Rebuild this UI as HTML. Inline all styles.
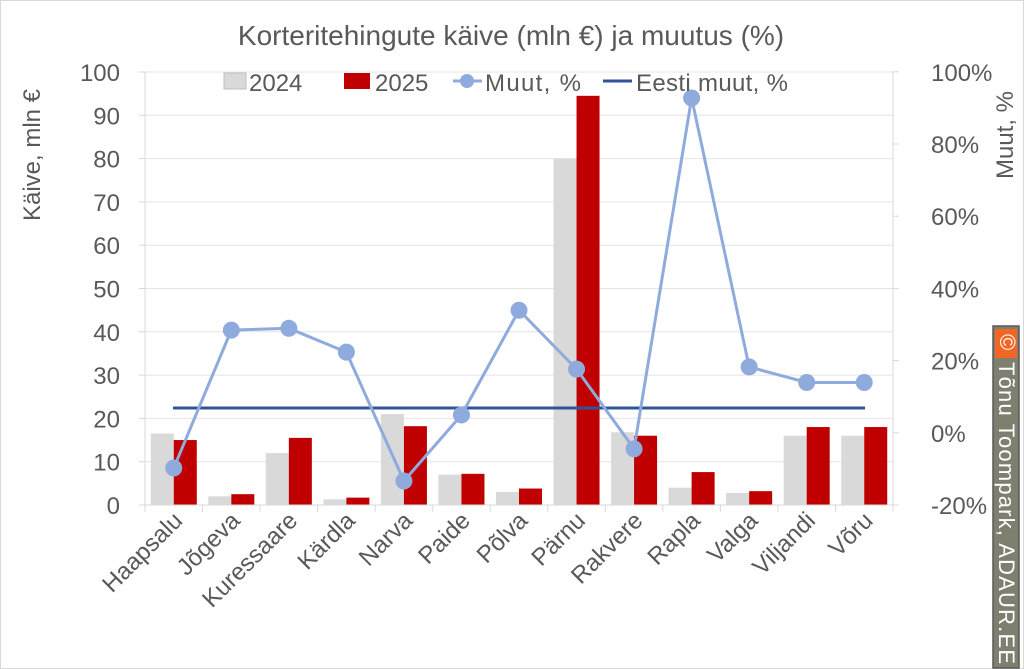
<!DOCTYPE html>
<html><head><meta charset="utf-8"><style>
html,body{margin:0;padding:0;background:#fff;}
svg{display:block;font-family:"Liberation Sans",sans-serif;}
</style></head><body>
<svg id="c" width="1024" height="669" xmlns="http://www.w3.org/2000/svg">
<rect x="0.5" y="0.5" width="1023" height="668" fill="#fff" stroke="#d9d9d9"/>
<text x="511" y="45" font-size="28" fill="#595959" text-anchor="middle">Korteritehingute käive (mln €) ja muutus (%)</text>
<g id="g"></g>
<text transform="translate(40,155) rotate(-90)" font-size="24" fill="#595959" text-anchor="middle">Käive, mln €</text>
<text transform="translate(1013,135) rotate(-90)" font-size="24" fill="#595959" text-anchor="middle">Muut, %</text>
<rect x="224" y="73" width="22" height="16" fill="#d9d9d9" stroke="#bfbfbf"/>
<text x="249" y="91" font-size="24" fill="#595959">2024</text>
<rect x="344" y="73" width="26" height="16" fill="#c00000"/>
<text x="375" y="91" font-size="24" fill="#595959">2025</text>
<line x1="453" y1="81" x2="482" y2="81" stroke="#8faadc" stroke-width="3"/>
<circle cx="467" cy="81" r="7" fill="#8faadc"/>
<text x="485" y="91" font-size="24" fill="#595959" textLength="96">Muut, %</text>
<line x1="603" y1="81" x2="632" y2="81" stroke="#2f5597" stroke-width="3"/>
<text x="636" y="91" font-size="24" fill="#595959" textLength="152">Eesti muut, %</text>
<rect x="993" y="326" width="26" height="342" fill="#7f7f6f" stroke="#595959" stroke-width="1.5"/>
<rect x="995" y="329" width="22" height="29" fill="#f26522"/>
<text transform="translate(1000,334) rotate(90)" font-size="22" fill="#fff">©</text>
<text transform="translate(999,362) rotate(90)" font-size="22" fill="#fff" textLength="302">Tõnu Toompark, ADAUR.EE</text>
</svg>
<script>
const g=document.getElementById('g');let s='';
const L=145,R=893,y0=505,py=4.33;
const names=['Haapsalu','Jõgeva','Kuressaare','Kärdla','Narva','Paide','Põlva','Pärnu','Rakvere','Rapla','Valga','Viljandi','Võru'];
const a=[16.5,2,12,1.3,21,7,3,80,16.8,4,2.8,16,16];
const b=[15,2.5,15.5,1.7,18.2,7.2,3.8,94.5,16,7.6,3.2,18,18];
const p=[-9.7,28.5,29,22.4,-13.3,5,34,17.7,-4.4,92.8,18.3,14,14];
const w=(R-L)/13;
for(let i=0;i<=10;i++){const y=y0-i*10*py;if(i>0)s+=`<line x1="${L}" y1="${y}" x2="${R}" y2="${y}" stroke="#e4e4e4"/>`;
s+=`<line x1="${L-6}" y1="${y}" x2="${L}" y2="${y}" stroke="#d9d9d9"/><text x="${L-25}" y="${y+9}" font-size="24" fill="#595959" text-anchor="end">${i*10}</text>`;}
for(let i=0;i<=6;i++){const y=y0-i*72.2;s+=`<line x1="${R}" y1="${y}" x2="${R+6}" y2="${y}" stroke="#d9d9d9"/><text x="${R+38}" y="${y+9}" font-size="24" fill="#595959">${(i-1)*20}%</text>`;}
s+=`<line x1="${L}" y1="72" x2="${L}" y2="${y0}" stroke="#d9d9d9"/><line x1="${R}" y1="72" x2="${R}" y2="${y0}" stroke="#d9d9d9"/>`;
for(let i=0;i<13;i++){const c=L+w*(i+0.5);
s+=`<rect x="${c-23}" y="${y0-a[i]*py}" width="23" height="${a[i]*py}" fill="#d9d9d9"/>`;
s+=`<rect x="${c}" y="${y0-b[i]*py}" width="23" height="${b[i]*py}" fill="#c00000"/>`;
s+=`<text transform="translate(${c+10},${522}) rotate(-45)" font-size="24" fill="#595959" text-anchor="end">${names[i]}</text>`;}
s+=`<line x1="${L}" y1="${y0}" x2="${R}" y2="${y0}" stroke="#d9d9d9"/>`;
for(let i=0;i<=13;i++){const x=L+w*i;s+=`<line x1="${x}" y1="${y0}" x2="${x}" y2="${y0+7}" stroke="#d9d9d9"/>`;}
s+=`<line x1="173" y1="408" x2="865" y2="408" stroke="#2f5597" stroke-width="3"/>`;
const pts=p.map((v,i)=>[L+w*(i+0.5),433-v*3.61]);
s+=`<polyline points="${pts.map(q=>q.join(',')).join(' ')}" fill="none" stroke="#8faadc" stroke-width="3"/>`;
pts.forEach(q=>s+=`<circle cx="${q[0]}" cy="${q[1]}" r="8.5" fill="#8faadc"/>`);
g.innerHTML=s;
</script>
</body></html>
